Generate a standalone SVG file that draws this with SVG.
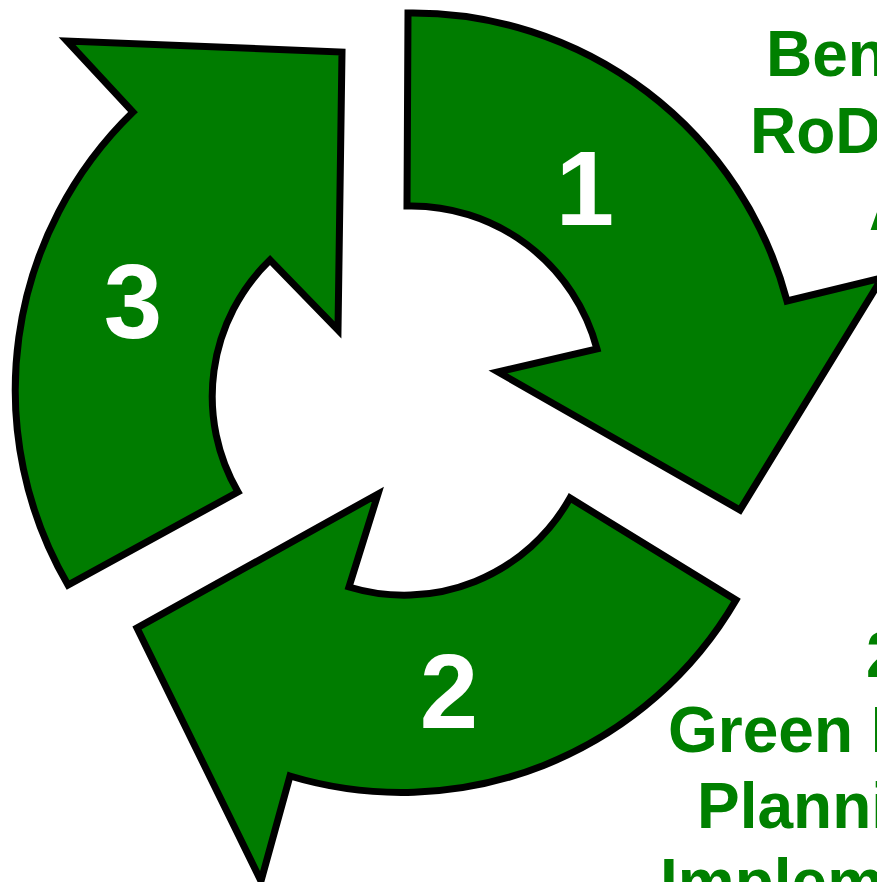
<svg xmlns="http://www.w3.org/2000/svg" width="877" height="882" viewBox="0 0 877 882">
  <style>
    .arrow { fill: #007c00; stroke: #000000; stroke-width: 7; stroke-linejoin: miter; stroke-miterlimit: 10; }
    .num { fill: #ffffff; font-family: "Liberation Sans", Arial, sans-serif; font-weight: bold; font-size: 105px; text-anchor: middle; }
    .label { fill: #008000; font-family: "Liberation Sans", Arial, sans-serif; font-weight: bold; font-size: 64px; }
  </style>
  <rect width="877" height="882" fill="#ffffff"/>

  <!-- step 1: top-right arc, points down to the right -->
  <g id="step1">
    <path class="arrow" d="M 408 13 A 387 387 0 0 1 787 301 L 882 278 L 740 510 L 498 372 L 597 349 A 192 192 0 0 0 407 206 Z"/>
    <text class="num" x="585" y="225">1</text>
  </g>

  <!-- step 2: bottom arc, points to the left -->
  <g id="step2">
    <path class="arrow" d="M 736 600 A 387 387 0 0 1 290 776 L 261 881 L 137 628 L 378 494 L 349 587 A 190 190 0 0 0 570 498 Z"/>
    <text class="num" x="449" y="728">2</text>
  </g>

  <!-- step 3: left arc, points up to the right -->
  <g id="step3">
    <path class="arrow" d="M 68 585 A 387 387 0 0 1 133 112 L 67 41 L 342 52 L 338 330 L 270 260 A 190 190 0 0 0 238 492 Z"/>
    <text class="num" x="133" y="338">3</text>
  </g>

  <!-- caption for step 1 -->
  <g id="caption1">
    <text class="label" x="766" y="76">Ben</text>
    <text class="label" x="750" y="153">RoD</text>
    <text class="label" x="869" y="230">A</text>
  </g>

  <!-- caption for step 2 -->
  <g id="caption2">
    <text class="label" x="866" y="677">2</text>
    <text class="label" x="668" y="752">Green I</text>
    <text class="label" x="697" y="828">Planni</text>
    <text class="label" x="660" y="904">Impleme</text>
  </g>
</svg>
